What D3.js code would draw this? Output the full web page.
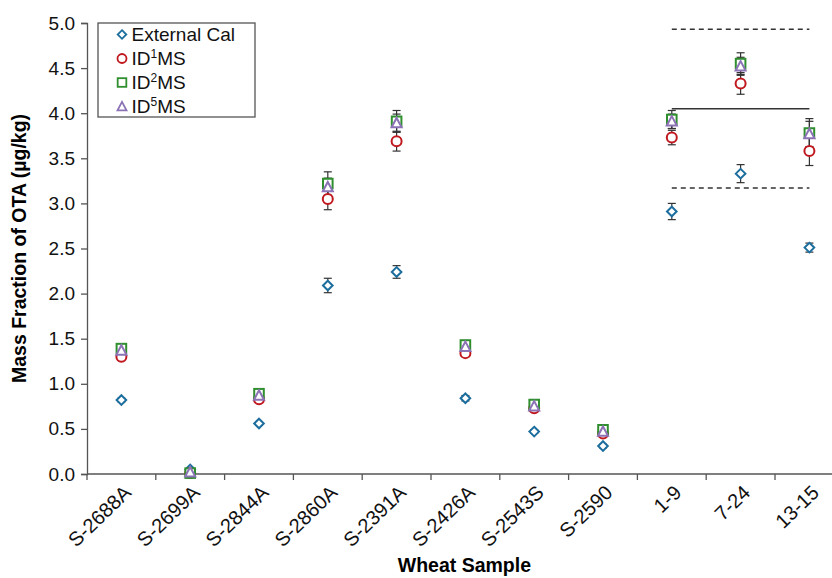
<!DOCTYPE html>
<html>
<head>
<meta charset="utf-8">
<script src="https://cdn.jsdelivr.net/npm/d3@7"></script>
<style>
  body { margin: 0; background: #fff; }
  svg { display: block; font-family: "Liberation Sans", Arial, sans-serif; }
</style>
</head>
<body>
<svg id="chart"></svg>
<script>
// chart size
const width = 832, height = 578;

// data
const samples = ["S-2688A", "S-2699A", "S-2844A", "S-2860A", "S-2391A", "S-2426A",
  "S-2543S", "S-2590", "1-9", "7-24", "13-15"];
const extCal = [0.82, 0.05, 0.56, 2.09, 2.24, 0.84, 0.47, 0.31, 2.91, 3.33, 2.51];
const extErr = [0.02, 0.02, 0.02, 0.08, 0.07, 0.03, 0.02, 0.02, 0.09, 0.10, 0.05];
const id1 = [1.30, 0.01, 0.83, 3.05, 3.69, 1.34, 0.73, 0.45, 3.73, 4.33, 3.58];
const id1Err = [0.03, 0.02, 0.03, 0.12, 0.11, 0.04, 0.03, 0.02, 0.08, 0.12, 0.16];
const id2 = [1.39, 0.01, 0.89, 3.22, 3.91, 1.43, 0.77, 0.49, 3.93, 4.55, 3.78];
const id2Err = [0.04, 0.02, 0.03, 0.13, 0.12, 0.04, 0.03, 0.02, 0.10, 0.12, 0.16];
const id5 = [1.37, 0.02, 0.87, 3.18, 3.89, 1.41, 0.75, 0.47, 3.91, 4.52, 3.77];
const id5Err = [0.04, 0.02, 0.03, 0.10, 0.10, 0.04, 0.02, 0.02, 0.08, 0.10, 0.14];
const yTicks = [0, 0.5, 1, 1.5, 2, 2.5, 3, 3.5, 4, 4.5, 5];
// consensus line and its band over the last three samples
const refMean = 4.05, refLow = 3.17, refHigh = 4.93;
const refSpan = ["1-9", "13-15"];

const svg = d3.select("#chart").attr("width", width).attr("height", height);

const x = d3.scaleBand().domain(samples).range([87, 87 + 11 * 68.8]).padding(0);
const y = d3.scaleLinear().domain([0, 5]).range([474, 23]);
const cx = d => x(d) + x.bandwidth() / 2;

// ---- axes ----
const axisColor = "#555";
const gx = svg.append("g");
gx.append("line")
  .attr("x1", x.range()[0]).attr("x2", x.range()[1])
  .attr("y1", y(0)).attr("y2", y(0))
  .attr("stroke", axisColor).attr("stroke-width", 1.3);
gx.selectAll("line.tick")
  .data(samples.map(s => x(s)).concat([x.range()[1]]))
  .join("line").attr("class", "tick")
  .attr("x1", d => d).attr("x2", d => d)
  .attr("y1", y(0)).attr("y2", y(0) + 6)
  .attr("stroke", axisColor).attr("stroke-width", 1.3);
gx.selectAll("text")
  .data(samples)
  .join("text")
  .attr("transform", d => `translate(${cx(d) + 6},${y(0) + 15}) rotate(-44)`)
  .attr("text-anchor", "end")
  .attr("dy", "0.35em")
  .style("font-size", "20px")
  .attr("fill", "#111")
  .text(d => d);

const gy = svg.append("g").attr("transform", `translate(${x.range()[0]},0)`)
  .call(d3.axisLeft(y).tickValues(yTicks).tickFormat(d3.format(".1f")).tickSize(6).tickPadding(6));
gy.select(".domain").attr("stroke", axisColor).attr("stroke-width", 1.3);
gy.selectAll(".tick line").attr("stroke", axisColor).attr("stroke-width", 1.3);
gy.selectAll(".tick text").style("font-size", "19px").attr("fill", "#111")
  .style("font-family", "Liberation Sans, Arial, sans-serif");

// axis titles
svg.append("text")
  .attr("x", (x.range()[0] + x.range()[1]) / 2 - 1).attr("y", 572)
  .attr("text-anchor", "middle")
  .style("font-size", "19.5px").style("font-weight", "bold")
  .text("Wheat Sample");
svg.append("text")
  .attr("transform", `translate(26,${(y(0) + y(5)) / 2}) rotate(-90)`)
  .attr("text-anchor", "middle")
  .style("font-size", "19.5px").style("font-weight", "bold")
  .text("Mass Fraction of OTA (\u00b5g/kg)");

// ---- reference lines ----
const refG = svg.append("g");
[[refHigh, "5,4"], [refMean, null], [refLow, "5,4"]].forEach(([v, dash]) => {
  refG.append("line")
    .attr("x1", cx(refSpan[0])).attr("x2", cx(refSpan[1]))
    .attr("y1", y(v)).attr("y2", y(v))
    .attr("stroke", "#333").attr("stroke-width", 1.5)
    .attr("stroke-dasharray", dash);
});

// ---- series ----
const series = [
  { name: "External Cal", sup: null, vals: extCal, errs: extErr, color: "#1c6e9e", shape: "diamond" },
  { name: "ID", sup: "1", vals: id1, errs: id1Err, color: "#c0181f", shape: "circle" },
  { name: "ID", sup: "2", vals: id2, errs: id2Err, color: "#2f8f2f", shape: "square" },
  { name: "ID", sup: "5", vals: id5, errs: id5Err, color: "#8b73b5", shape: "triangle" }
];

function marker(g, shape, color) {
  if (shape === "diamond") {
    g.append("path").attr("d", "M0,-4.8L4.8,0L0,4.8L-4.8,0Z");
  } else if (shape === "circle") {
    g.append("circle").attr("r", 5);
  } else if (shape === "square") {
    g.append("rect").attr("x", -4.8).attr("y", -4.8).attr("width", 9.6).attr("height", 9.6);
  } else {
    g.append("path").attr("d", "M0,-5.2L5,4.2L-5,4.2Z");
  }
  g.selectAll("*").attr("fill", "#fff").attr("stroke", color).attr("stroke-width", 2);
}

// error bars first
const errG = svg.append("g");
series.forEach(s => {
  samples.forEach((d, i) => {
    const lo = y(s.vals[i] - s.errs[i]), hi = y(s.vals[i] + s.errs[i]);
    errG.append("line").attr("x1", cx(d)).attr("x2", cx(d))
      .attr("y1", lo).attr("y2", hi).attr("stroke", "#333").attr("stroke-width", 1.2);
    [lo, hi].forEach(yy => errG.append("line")
      .attr("x1", cx(d) - 4).attr("x2", cx(d) + 4)
      .attr("y1", yy).attr("y2", yy).attr("stroke", "#333").attr("stroke-width", 1.2));
  });
});

series.forEach(s => {
  samples.forEach((d, i) => {
    const g = svg.append("g").attr("transform", `translate(${cx(d)},${y(s.vals[i])})`);
    marker(g, s.shape, s.color);
  });
});

// ---- legend ----
const leg = svg.append("g").attr("transform", "translate(98,23)");
leg.append("rect").attr("width", 157).attr("height", 94)
  .attr("fill", "#fff").attr("stroke", "#555").attr("stroke-width", 1.3);
series.forEach((s, i) => {
  const row = leg.append("g").attr("transform", `translate(24,${11.5 + i * 24})`);
  const m = row.append("g").attr("transform", "scale(0.9)");
  marker(m, s.shape, s.color);
  const t = row.append("text").attr("x", 9.5).attr("dy", "0.36em")
    .style("font-size", "19px").attr("fill", "#111");
  if (s.sup) {
    t.append("tspan").text(s.name);
    t.append("tspan").attr("dy", "-7").style("font-size", "12px").text(s.sup);
    t.append("tspan").attr("dy", "7").text("MS");
  } else {
    t.text(s.name);
  }
});
</script>
</body>
</html>
